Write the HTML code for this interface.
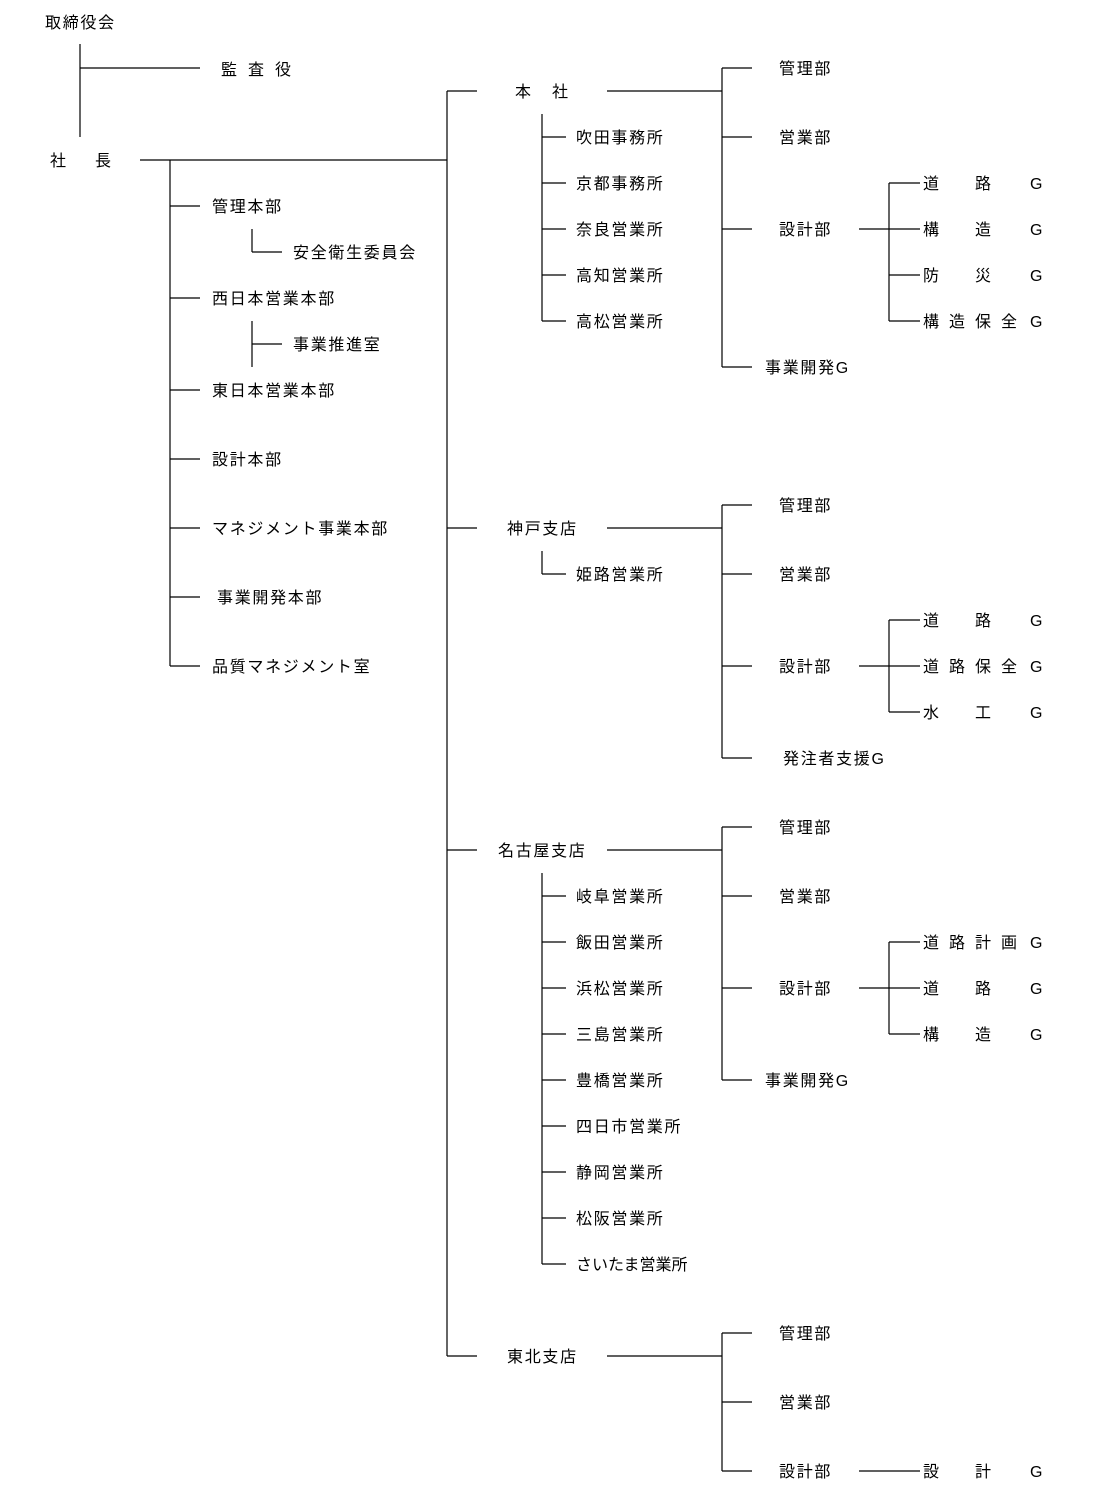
<!DOCTYPE html>
<html><head><meta charset="utf-8"><style>
html,body{margin:0;padding:0;background:#fff;}
svg{display:block;}
text{font-family:"Liberation Sans","Noto Sans CJK JP",sans-serif;font-size:16px;fill:#000;letter-spacing:1.7px;}
line{stroke:#000;stroke-width:1.2;}
</style></head><body>
<svg width="1100" height="1500" viewBox="0 0 1100 1500" xmlns="http://www.w3.org/2000/svg">
<line x1="80" y1="44" x2="80" y2="137"/><line x1="80" y1="68" x2="200" y2="68"/>
<line x1="140" y1="160" x2="447" y2="160"/>
<line x1="170" y1="160" x2="170" y2="666"/>
<line x1="170" y1="206" x2="200" y2="206"/><line x1="170" y1="298" x2="200" y2="298"/>
<line x1="170" y1="390" x2="200" y2="390"/><line x1="170" y1="459" x2="200" y2="459"/>
<line x1="170" y1="528" x2="200" y2="528"/><line x1="170" y1="597" x2="200" y2="597"/>
<line x1="170" y1="666" x2="200" y2="666"/>
<line x1="252" y1="229" x2="252" y2="252"/><line x1="252" y1="252" x2="282" y2="252"/>
<line x1="252" y1="321" x2="252" y2="367"/><line x1="252" y1="344" x2="282" y2="344"/>
<line x1="447" y1="91" x2="447" y2="1356"/>
<line x1="447" y1="91" x2="477" y2="91"/><line x1="447" y1="528" x2="477" y2="528"/>
<line x1="447" y1="850" x2="477" y2="850"/><line x1="447" y1="1356" x2="477" y2="1356"/>
<line x1="607" y1="91" x2="722" y2="91"/><line x1="722" y1="68" x2="722" y2="367"/>
<line x1="722" y1="68" x2="752" y2="68"/><line x1="722" y1="137" x2="752" y2="137"/>
<line x1="722" y1="229" x2="752" y2="229"/><line x1="722" y1="367" x2="752" y2="367"/>
<line x1="542" y1="114" x2="542" y2="321"/>
<line x1="542" y1="137" x2="566" y2="137"/><line x1="542" y1="183" x2="566" y2="183"/>
<line x1="542" y1="229" x2="566" y2="229"/><line x1="542" y1="275" x2="566" y2="275"/>
<line x1="542" y1="321" x2="566" y2="321"/>
<line x1="859" y1="229" x2="920" y2="229"/><line x1="889" y1="183" x2="889" y2="321"/>
<line x1="889" y1="183" x2="920" y2="183"/><line x1="889" y1="275" x2="920" y2="275"/>
<line x1="889" y1="321" x2="920" y2="321"/>
<line x1="607" y1="528" x2="722" y2="528"/><line x1="722" y1="505" x2="722" y2="758"/>
<line x1="722" y1="505" x2="752" y2="505"/><line x1="722" y1="574" x2="752" y2="574"/>
<line x1="722" y1="666" x2="752" y2="666"/><line x1="722" y1="758" x2="752" y2="758"/>
<line x1="542" y1="551" x2="542" y2="574"/><line x1="542" y1="574" x2="566" y2="574"/>
<line x1="859" y1="666" x2="920" y2="666"/><line x1="889" y1="620" x2="889" y2="712"/>
<line x1="889" y1="620" x2="920" y2="620"/><line x1="889" y1="712" x2="920" y2="712"/>
<line x1="607" y1="850" x2="722" y2="850"/><line x1="722" y1="827" x2="722" y2="1080"/>
<line x1="722" y1="827" x2="752" y2="827"/><line x1="722" y1="896" x2="752" y2="896"/>
<line x1="722" y1="988" x2="752" y2="988"/><line x1="722" y1="1080" x2="752" y2="1080"/>
<line x1="542" y1="873" x2="542" y2="1264"/>
<line x1="542" y1="896" x2="566" y2="896"/><line x1="542" y1="942" x2="566" y2="942"/>
<line x1="542" y1="988" x2="566" y2="988"/><line x1="542" y1="1034" x2="566" y2="1034"/>
<line x1="542" y1="1080" x2="566" y2="1080"/><line x1="542" y1="1126" x2="566" y2="1126"/>
<line x1="542" y1="1172" x2="566" y2="1172"/><line x1="542" y1="1218" x2="566" y2="1218"/>
<line x1="542" y1="1264" x2="566" y2="1264"/>
<line x1="859" y1="988" x2="920" y2="988"/><line x1="889" y1="942" x2="889" y2="1034"/>
<line x1="889" y1="942" x2="920" y2="942"/><line x1="889" y1="1034" x2="920" y2="1034"/>
<line x1="607" y1="1356" x2="722" y2="1356"/><line x1="722" y1="1333" x2="722" y2="1471"/>
<line x1="722" y1="1333" x2="752" y2="1333"/><line x1="722" y1="1402" x2="752" y2="1402"/>
<line x1="722" y1="1471" x2="752" y2="1471"/>
<line x1="859" y1="1471" x2="920" y2="1471"/>

<text x="45" y="28">取締役会</text>
<text x="221" y="75">監</text><text x="248" y="75">査</text><text x="275" y="75">役</text>
<text x="50" y="166">社</text><text x="95" y="166">長</text>
<text x="212" y="212">管理本部</text>
<text x="293" y="258">安全衛生委員会</text>
<text x="212" y="304">西日本営業本部</text>
<text x="293" y="350">事業推進室</text>
<text x="212" y="396">東日本営業本部</text>
<text x="212" y="465">設計本部</text>
<text x="212" y="534">マネジメント事業本部</text>
<text x="217" y="603">事業開発本部</text>
<text x="212" y="672">品質マネジメント室</text>
<text x="515" y="97">本</text><text x="552" y="97">社</text>
<text x="507" y="534">神戸支店</text>
<text x="498" y="856">名古屋支店</text>
<text x="507" y="1362">東北支店</text>
<text x="576" y="143">吹田事務所</text>
<text x="576" y="189">京都事務所</text>
<text x="576" y="235">奈良営業所</text>
<text x="576" y="281">高知営業所</text>
<text x="576" y="327">高松営業所</text>
<text x="576" y="580">姫路営業所</text>
<text x="576" y="902">岐阜営業所</text>
<text x="576" y="948">飯田営業所</text>
<text x="576" y="994">浜松営業所</text>
<text x="576" y="1040">三島営業所</text>
<text x="576" y="1086">豊橋営業所</text>
<text x="576" y="1132">四日市営業所</text>
<text x="576" y="1178">静岡営業所</text>
<text x="576" y="1224">松阪営業所</text>
<text x="576" y="1270" style="letter-spacing:0">さいたま営業所</text>
<text x="779" y="74">管理部</text>
<text x="779" y="143">営業部</text>
<text x="779" y="235">設計部</text>
<text x="765" y="373">事業開発G</text>
<text x="779" y="511">管理部</text>
<text x="779" y="580">営業部</text>
<text x="779" y="672">設計部</text>
<text x="783" y="764">発注者支援G</text>
<text x="779" y="833">管理部</text>
<text x="779" y="902">営業部</text>
<text x="779" y="994">設計部</text>
<text x="765" y="1086">事業開発G</text>
<text x="779" y="1339">管理部</text>
<text x="779" y="1408">営業部</text>
<text x="779" y="1477">設計部</text>
<text x="923" y="189">道</text><text x="975" y="189">路</text><text x="1030" y="189">G</text>
<text x="923" y="235">構</text><text x="975" y="235">造</text><text x="1030" y="235">G</text>
<text x="923" y="281">防</text><text x="975" y="281">災</text><text x="1030" y="281">G</text>
<text x="923" y="327">構</text><text x="949" y="327">造</text><text x="975" y="327">保</text><text x="1001" y="327">全</text><text x="1030" y="327">G</text>
<text x="923" y="626">道</text><text x="975" y="626">路</text><text x="1030" y="626">G</text>
<text x="923" y="672">道</text><text x="949" y="672">路</text><text x="975" y="672">保</text><text x="1001" y="672">全</text><text x="1030" y="672">G</text>
<text x="923" y="718">水</text><text x="975" y="718">工</text><text x="1030" y="718">G</text>
<text x="923" y="948">道</text><text x="949" y="948">路</text><text x="975" y="948">計</text><text x="1001" y="948">画</text><text x="1030" y="948">G</text>
<text x="923" y="994">道</text><text x="975" y="994">路</text><text x="1030" y="994">G</text>
<text x="923" y="1040">構</text><text x="975" y="1040">造</text><text x="1030" y="1040">G</text>
<text x="923" y="1477">設</text><text x="975" y="1477">計</text><text x="1030" y="1477">G</text>
</svg>
</body></html>
